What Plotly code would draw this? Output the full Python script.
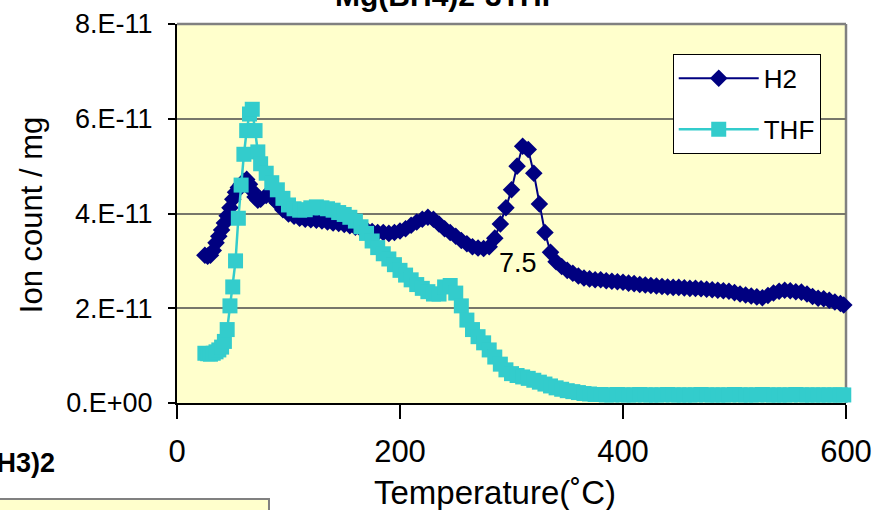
import plotly.graph_objects as go

# ---------------- data (ion count in units of 1E-11 per mg) ----------------
temperature = [25, 27.5, 30, 32.5, 35, 37.5, 40, 42.5, 45, 47.5, 50, 52.5, 55, 57.5, 60,
               62.5, 65, 67.5, 70, 72.5, 75, 80, 85, 90, 95, 100, 105, 110, 115, 120,
               125, 130, 135, 140, 145, 150, 155, 160, 165, 170, 175, 180, 185, 190, 195,
               200, 205, 210, 215, 220, 225, 230, 235, 240, 245, 250, 255, 260, 265, 270,
               275, 280, 285, 290, 295, 300, 305, 310, 315, 320, 325, 330, 335, 340, 345,
               350, 355, 360, 365, 370, 375, 380, 385, 390, 395, 400, 405, 410, 415, 420,
               425, 430, 435, 440, 445, 450, 455, 460, 465, 470, 475, 480, 485, 490, 495,
               500, 505, 510, 515, 520, 525, 530, 535, 540, 545, 550, 555, 560, 565, 570,
               575, 580, 585, 590, 595, 598]

h2 = [3.12, 3.10, 3.12, 3.22, 3.38, 3.52, 3.65, 3.80, 3.95, 4.12, 4.30, 4.45, 4.55, 4.62, 4.68,
      4.72, 4.62, 4.48, 4.35, 4.28, 4.30, 4.38, 4.35, 4.22, 4.08, 3.99, 3.94, 3.90, 3.88, 3.87,
      3.86, 3.84, 3.82, 3.80, 3.79, 3.77, 3.74, 3.71, 3.68, 3.65, 3.62, 3.60, 3.60, 3.58, 3.60,
      3.63, 3.68, 3.75, 3.82, 3.88, 3.92, 3.88, 3.78, 3.68, 3.60, 3.52, 3.43, 3.36, 3.30, 3.27,
      3.26, 3.30, 3.48, 3.78, 4.12, 4.50, 5.00, 5.42, 5.35, 4.85, 4.20, 3.60, 3.18, 2.98, 2.88,
      2.80, 2.74, 2.68, 2.64, 2.62, 2.60, 2.60, 2.58, 2.57, 2.56, 2.55, 2.53, 2.52, 2.50, 2.49,
      2.48, 2.47, 2.46, 2.45, 2.44, 2.44, 2.43, 2.42, 2.42, 2.41, 2.40, 2.39, 2.38, 2.37, 2.36,
      2.33, 2.30, 2.28, 2.26, 2.24, 2.22, 2.27, 2.32, 2.36, 2.38, 2.37, 2.35, 2.34, 2.30, 2.25,
      2.21, 2.20, 2.17, 2.13, 2.10, 2.07]

thf = [1.05, 1.04, 1.03, 1.05, 1.08, 1.12, 1.18, 1.30, 1.55, 2.05, 2.45, 3.00, 3.90, 4.60, 5.25,
       5.75, 6.10, 6.20, 5.75, 5.30, 5.05, 4.85, 4.65, 4.50, 4.32, 4.18, 4.10, 4.07, 4.08, 4.12,
       4.14, 4.12, 4.10, 4.07, 4.02, 3.98, 3.92, 3.84, 3.72, 3.58, 3.42, 3.28, 3.15, 3.04, 2.92,
       2.80, 2.70, 2.60, 2.50, 2.42, 2.35, 2.30, 2.30, 2.45, 2.48, 2.32, 2.05, 1.75, 1.55, 1.40,
       1.27, 1.12, 0.97, 0.82, 0.70, 0.62, 0.58, 0.55, 0.52, 0.48, 0.44, 0.40, 0.36, 0.32, 0.29,
       0.26, 0.24, 0.22, 0.20, 0.19, 0.18, 0.18, 0.17, 0.17, 0.18, 0.17, 0.17, 0.17, 0.18, 0.17,
       0.17, 0.17, 0.17, 0.18, 0.17, 0.17, 0.17, 0.17, 0.17, 0.18, 0.17, 0.17, 0.17, 0.17, 0.17,
       0.18, 0.17, 0.17, 0.17, 0.17, 0.18, 0.17, 0.17, 0.17, 0.17, 0.17, 0.18, 0.17, 0.17, 0.17,
       0.17, 0.17, 0.17, 0.17, 0.17, 0.17]

y_tick_vals = [0, 2, 4, 6, 8]
y_tick_text = ["0.E+00", "2.E-11", "4.E-11", "6.E-11", "8.E-11"]
x_tick_vals = [0, 200, 400, 600]

FONT = "Liberation Sans, Arial, sans-serif"

fig = go.Figure()
fig.add_trace(go.Scatter(
    x=temperature, y=h2, name="H2", mode="lines+markers",
    line=dict(color="#000080", width=2),
    marker=dict(symbol="diamond", size=13.5, color="#000080", line=dict(width=0)),
    cliponaxis=False, legendgroup="a"))
fig.add_trace(go.Scatter(
    x=temperature, y=thf, name="THF", mode="lines+markers",
    line=dict(color="#33CCCC", width=2.5),
    marker=dict(symbol="square", size=15, color="#33CCCC", line=dict(width=0)),
    cliponaxis=False, legendgroup="b"))

fig.update_layout(
    width=877, height=510,
    margin=dict(l=177, r=31, t=24, b=107, autoexpand=False),
    paper_bgcolor="white", plot_bgcolor="#FFFFCC",
    font=dict(family=FONT, color="black"),
    showlegend=True,
    legend=dict(x=0.741, y=0.921, xanchor="left", yanchor="top",
                bgcolor="white", bordercolor="black", borderwidth=1,
                font=dict(size=26, family=FONT), itemwidth=80, tracegroupgap=14),
    xaxis=dict(range=[0, 600], tickvals=x_tick_vals, showgrid=False, zeroline=False,
               showline=True, linecolor="black", linewidth=2, automargin=False,
               ticks="outside", ticklen=14, tickwidth=1.5, tickcolor="black",
               tickfont=dict(size=31, family=FONT), ticklabelstandoff=6,
               layer="below traces"),
    yaxis=dict(range=[0, 8], tickvals=y_tick_vals, ticktext=y_tick_text,
               showgrid=True, gridcolor="#77776a", gridwidth=1.5, zeroline=False,
               showline=True, linecolor="black", linewidth=2, automargin=False,
               ticks="outside", ticklen=7, tickwidth=1.5, tickcolor="black",
               tickfont=dict(size=27, family=FONT), ticklabelstandoff=10,
               layer="below traces"),
    shapes=[
        dict(type="line", xref="paper", yref="paper", x0=0, x1=1, y0=1, y1=1,
             line=dict(color="#808080", width=2.5), layer="below"),
        dict(type="line", xref="paper", yref="paper", x0=1, x1=1, y0=0, y1=1,
             line=dict(color="#808080", width=2.5), layer="below"),
        dict(type="rect", xref="paper", yref="paper", x0=-0.28, x1=0.1375,
             y0=-0.32, y1=-0.2535, fillcolor="#FFFFCC",
             line=dict(color="#808080", width=2)),
    ],
    annotations=[
        dict(text="Temperature(˚C)", xref="paper", yref="paper", x=0.476, y=-0.235,
             showarrow=False, font=dict(size=33, family=FONT),
             xanchor="center", yanchor="middle"),
        dict(text="Ion count / mg", xref="paper", yref="paper", x=-0.217, y=0.495,
             showarrow=False, textangle=-90, font=dict(size=31, family=FONT),
             xanchor="center", yanchor="middle"),
        dict(text="7.5", xref="x", yref="y", x=306, y=2.95, showarrow=False,
             font=dict(size=27, family=FONT), xanchor="center", yanchor="middle"),
        dict(text="<b>Mg(BH4)2·3THF</b>", xref="paper", yref="paper", x=0.405, y=1.075,
             showarrow=False, font=dict(size=30, family=FONT),
             xanchor="center", yanchor="middle"),
        dict(text="<b>Mg(BH3)2</b>", xref="paper", yref="paper", x=-0.179, y=-0.158,
             showarrow=False, font=dict(size=27, family=FONT),
             xanchor="right", yanchor="middle"),
    ],
)

fig.write_html("out.html")
